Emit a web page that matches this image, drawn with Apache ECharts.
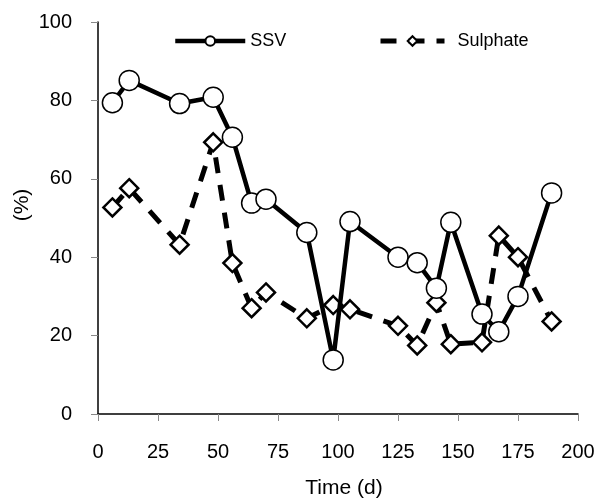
<!DOCTYPE html>
<html>
<head>
<meta charset="utf-8">
<script src="https://cdn.jsdelivr.net/npm/echarts@6/dist/echarts.min.js"></script>
<style>
  html, body { margin: 0; padding: 0; background: #fff; }
  #chart { width: 601px; height: 499px; }
</style>
</head>
<body>
<div id="chart"></div>
<script>
// days
const days = [6, 13, 34, 48, 56, 64, 70, 87, 98, 105, 125, 133, 141, 147, 160, 167, 175, 189]
// removal (%)
const ssv = [79.4, 85.1, 79.2, 80.8, 70.6, 53.8, 54.8, 46.3, 13.8, 49.1, 40.0, 38.6, 32.1, 48.9, 25.5, 21.0, 30.0, 56.4]
const sulphate = [52.7, 57.6, 43.2, 69.3, 38.5, 27.0, 31.0, 24.4, 27.8, 26.7, 22.5, 17.5, 28.4, 17.8, 18.3, 45.5, 40.0, 23.6]

const pairs = (xs, ys) => xs.map((x, i) => [x, ys[i]])

const font = 'Liberation Sans, Arial, sans-serif'
const legendText = { fontSize: 18, color: '#000', fontFamily: font }
const chart = echarts.init(document.getElementById('chart'))
chart.setOption({
  animation: false,
  textStyle: { fontFamily: font },
  grid: { left: 98, right: 23, top: 22, bottom: 85, containLabel: false, outerBoundsMode: 'none' },
  legend: [
    {
      top: 32,
      left: 173,
      padding: 0,
      itemWidth: 70,
      itemHeight: 12,
      lineStyle: { width: 4.5 },
      textStyle: legendText,
      data: ['SSV']
    },
    {
      top: 32,
      left: 378,
      padding: 0,
      itemWidth: 64,
      itemHeight: 12,
      lineStyle: { width: 5 },
      textStyle: Object.assign({ padding: [0, 0, 0, 8] }, legendText),
      data: ['Sulphate']
    }
  ],
  graphic: [
    {
      type: 'text',
      x: 22,
      y: 205,
      rotation: Math.PI / 2,
      style: { text: '(%)', fontSize: 21, fontFamily: font, fill: '#000', align: 'center', verticalAlign: 'middle' }
    }
  ],
  xAxis: {
    type: 'value',
    min: 0,
    max: 200,
    interval: 25,
    name: 'Time (d)',
    nameLocation: 'middle',
    nameGap: 64,
    nameTextStyle: { fontSize: 21, color: '#000', fontFamily: font, padding: [0, 0, 0, 12] },
    axisLine: { lineStyle: { color: '#000', width: 1.5 } },
    axisTick: { length: 7, lineStyle: { color: '#888' } },
    axisLabel: { fontSize: 20, color: '#000', margin: 28 },
    splitLine: { show: false }
  },
  yAxis: {
    type: 'value',
    min: 0,
    max: 100,
    interval: 20,
    axisLine: { show: true, lineStyle: { color: '#000', width: 1.5 } },
    axisTick: { show: true, length: 7, lineStyle: { color: '#888' } },
    axisLabel: { fontSize: 20, color: '#000', margin: 26 },
    splitLine: { show: false }
  },
  series: [
    {
      name: 'SSV',
      type: 'line',
      data: pairs(days, ssv),
      symbol: 'circle',
      symbolSize: 20,
      lineStyle: { color: '#000', width: 4.5 },
      itemStyle: { color: '#fff', borderColor: '#000', borderWidth: 1.5 },
      z: 3
    },
    {
      name: 'Sulphate',
      type: 'line',
      data: pairs(days, sulphate),
      symbol: 'diamond',
      symbolSize: 18,
      lineStyle: { color: '#000', width: 5, type: [16, 12] },
      itemStyle: { color: '#fff', borderColor: '#000', borderWidth: 2.5 },
      z: 2
    }
  ]
})
</script>
</body>
</html>
